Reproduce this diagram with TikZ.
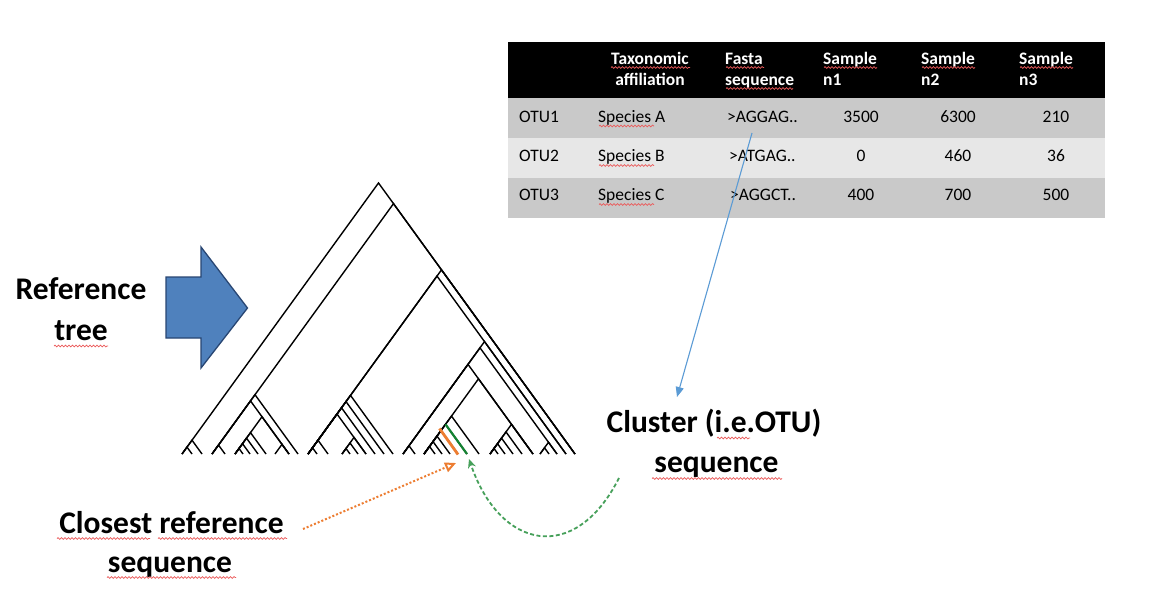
\documentclass[tikz,border=0pt]{standalone}
\usepackage{fontspec}
\setmainfont{Carlito}
\usetikzlibrary{arrows.meta,decorations.pathmorphing}
\definecolor{rowdark}{RGB}{201,201,201}
\definecolor{rowlight}{RGB}{231,231,231}
\definecolor{arrowfill}{RGB}{79,129,189}
\definecolor{arrowline}{RGB}{40,70,115}
\definecolor{linkblue}{RGB}{91,155,213}
\definecolor{orng}{RGB}{237,125,49}
\definecolor{dgreen}{RGB}{20,130,50}
\definecolor{dashgreen}{RGB}{70,160,90}
\definecolor{spellred}{RGB}{235,90,90}
\begin{document}
\begin{tikzpicture}[x=1pt,y=-1pt,
  br/.style={line width=1.4pt,black},
  lbl/.style={font=\fontsize{31.5}{36}\selectfont\bfseries,anchor=base,inner sep=0pt},
  hd/.style={font=\fontsize{17.5}{20}\selectfont\bfseries,text=white,inner sep=0pt},
  cell/.style={font=\fontsize{17.5}{20}\selectfont,inner sep=0pt},
  spell/.style={decorate,decoration={snake,amplitude=0.9pt,segment length=3.5pt},spellred,line width=0.7pt}]
\useasboundingbox (0,0) rectangle (1168,597);
\fill[white] (0,0) rectangle (1168,597);

% ---------- table ----------
\fill[black] (508,42) rectangle (1105,98);
\fill[rowdark] (508,98) rectangle (1105,138);
\fill[rowlight] (508,138) rectangle (1105,178);
\fill[rowdark] (508,178) rectangle (1105,218);

\node[hd,anchor=base] (h1a) at (650,64) {Taxonomic};
\node[hd,anchor=base] (h1b) at (650,85) {affiliation};
\node[hd,anchor=base west] (h2a) at (725,64) {Fasta};
\node[hd,anchor=base west] (h2b) at (725,85) {sequence};
\node[hd,anchor=base west] (h3a) at (823,64) {Sample};
\node[hd,anchor=base west] (h3b) at (823,85) {n1};
\node[hd,anchor=base west] (h4a) at (921,64) {Sample};
\node[hd,anchor=base west] (h4b) at (921,85) {n2};
\node[hd,anchor=base west] (h5a) at (1019,64) {Sample};
\node[hd,anchor=base west] (h5b) at (1019,85) {n3};

\node[cell,anchor=base west] (o1) at (519,122) {OTU1};
\node[cell,anchor=base west] (s1) at (598,122) {Species A};
\node[cell,anchor=base west] (f1) at (727,122) {>AGGAG..};
\node[cell,anchor=base] (a1) at (861,122) {3500};
\node[cell,anchor=base] (b1) at (958,122) {6300};
\node[cell,anchor=base] (c1) at (1056,122) {210};

\node[cell,anchor=base west] (o2) at (519,161.5) {OTU2};
\node[cell,anchor=base west] (s2) at (598,161.5) {Species B};
\node[cell,anchor=base west] (f2) at (729,161.5) {>ATGAG..};
\node[cell,anchor=base] (a2) at (861,161.5) {0};
\node[cell,anchor=base] (b2) at (958,161.5) {460};
\node[cell,anchor=base] (c2) at (1056,161.5) {36};

\node[cell,anchor=base west] (o3) at (519,200.5) {OTU3};
\node[cell,anchor=base west] (s3) at (598,200.5) {Species C};
\node[cell,anchor=base west] (f3) at (730,200.5) {>AGGCT..};
\node[cell,anchor=base] (a3) at (861,200.5) {400};
\node[cell,anchor=base] (b3) at (958,200.5) {700};
\node[cell,anchor=base] (c3) at (1056,200.5) {500};

% spell-check marks in table
\draw[spell] (611,67.5) -- (690,67.5);
\draw[spell] (726,67.5) -- (764,67.5);
\draw[spell] (726,88.5) -- (793,88.5);
\draw[spell] (824,67.5) -- (877,67.5);
\draw[spell] (922,67.5) -- (975,67.5);
\draw[spell] (1020,67.5) -- (1073,67.5);
\draw[spell] (599,126) -- (654,126);
\draw[spell] (599,165.5) -- (654,165.5);
\draw[spell] (599,204.5) -- (654,204.5);

% ---------- big block arrow ----------
\draw[fill=arrowfill,draw=arrowline,line width=1.3pt,line join=miter]
  (166,277) -- (201,277) -- (201,247) -- (247.5,308) -- (201,368) -- (201,338) -- (166,338) -- cycle;

\node[lbl] (ref1) at (81,299) {Reference};
\node[lbl] (ref2) at (81,340) {tree};
\draw[spell] (54,346) -- (108,346);

% ---------- tree ----------
\foreach \l/\r in {182/575, 182/202, 182/192,
  212/575, 212/298, 212/289, 212/225, 235/289, 235/266, 235/258, 235/250, 235/243, 275/289,
  308/575, 308/566, 308/393, 308/384, 308/375, 308/366, 308/328, 308/317, 342/366, 342/358, 342/350,
  403/566, 403/557, 403/533, 403/415, 424/533, 424/479, 424/467, 424/458, 424/450, 424/442, 424/435,
  490/533, 490/522, 490/513, 490/505, 490/498, 540/557, 540/549}
  {\draw[br] (\l,454) -- ({(\l+\r)/2},{454-(\r-\l)/1.45}) -- (\r,454);}

\coordinate (gtop) at (445.5,424.3);
\coordinate (gbot) at (467,454);
\coordinate (otop) at (439.5,428.5);
\coordinate (obot) at (458,454.5);
\draw[dgreen,line width=2.2pt] (gtop) -- (gbot);
\draw[orng,line width=2.8pt] (otop) -- (obot);

% ---------- labels ----------
\node[lbl] (cl1) at (714,432) {Cluster (i.e.OTU)};
\node[lbl] (cl2) at (716.5,472) {sequence};
\draw[spell] (717,438) -- (750,438);
\draw[spell] (652,478.5) -- (782,478.5);

\node[lbl] (cr1) at (171.5,533) {Closest reference};
\node[lbl] (cr2) at (170,572) {sequence};
\draw[spell] (57,538.5) -- (150,538.5);
\draw[spell] (158,538.5) -- (287,538.5);
\draw[spell] (107,577.5) -- (236,577.5);

% ---------- connectors ----------
\coordinate (bstart) at (752,133);
\coordinate (bend) at (677,397);
\draw[linkblue,line width=1.1pt,-{Triangle[length=10pt,width=8pt]}] (bstart) -- (bend);

\coordinate (ostart) at (303,529);
\coordinate (otip) at (456,463);
\draw[orng,line width=2pt,dash pattern=on 2pt off 2pt,-{Triangle[open,length=11pt,width=10pt]}] (ostart) -- (otip);

\coordinate (gstart) at (619,478);
\coordinate (gtip) at (469,459);
\draw[dashgreen,line width=1.8pt,dash pattern=on 4pt off 2.5pt,-{Stealth[open,length=9pt,width=8pt]}]
  (gstart) .. controls (575,565) and (500,550) .. (gtip);
\end{tikzpicture}
\end{document}
